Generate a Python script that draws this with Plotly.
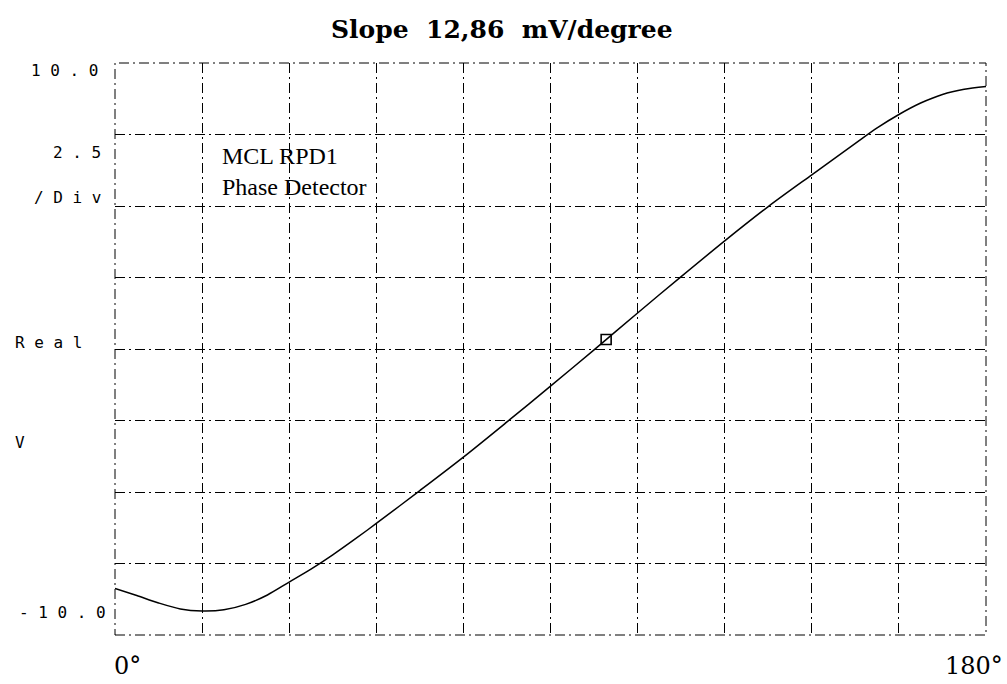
import plotly.graph_objects as go

# ---- data ----
phase_deg = [0, 4.5, 9, 13.5, 18, 22.5, 27, 31.5, 36, 40.5, 45, 49.5, 54, 63, 72, 81, 90, 99,
             108, 117, 126, 135, 144, 153, 157.5, 162, 166.5, 171, 175.5, 180]
real_v = [-8.37, -8.62, -8.88, -9.09, -9.16, -9.12, -8.93, -8.6, -8.15, -7.7, -7.2, -6.66,
          -6.1, -4.95, -3.78, -2.55, -1.3, -0.03, 1.26, 2.53, 3.78, 4.98, 6.09, 7.19, 7.73,
          8.2, 8.6, 8.9, 9.08, 9.18]
marker_deg = [101.5]
marker_v = [0.33]

title_text = "Slope  12,86  mV/degree"
note_lines = ["MCL RPD1", "Phase Detector"]
y_side_labels = ["1 0 . 0", "2 . 5", "/ D i v", "R e a l", "V", "- 1 0 . 0"]
x_end_labels = ["0°", "180°"]

# ---- layout geometry (pixels) ----
W, H = 1007, 684
L, R, T, B = 115, 986, 63, 635
pw, ph = R - L, B - T


def px(x):
    return (x - L) / pw


def py(y):
    return (B - y) / ph


fig = go.Figure()
fig.add_trace(go.Scatter(x=phase_deg, y=real_v, mode="lines",
                         line=dict(color="black", width=1.5, shape="spline", smoothing=0.8),
                         hoverinfo="skip", showlegend=False))
fig.add_trace(go.Scatter(x=marker_deg, y=marker_v, mode="markers",
                         marker=dict(symbol="square-open", size=10, color="black",
                                     line=dict(width=1.6, color="black")),
                         showlegend=False))

grid_dash = "10px,4px,2px,4px"
fig.update_xaxes(range=[0, 180], tick0=0, dtick=18, showgrid=True, gridcolor="black",
                 gridwidth=1, griddash=grid_dash, showticklabels=False, zeroline=False,
                 showline=False, ticks="")
fig.update_yaxes(range=[-10, 10], tick0=-10, dtick=2.5, showgrid=True, gridcolor="black",
                 gridwidth=1, griddash=grid_dash, showticklabels=False, zeroline=False,
                 showline=False, ticks="")

fig.add_shape(type="rect", xref="paper", yref="paper", x0=0, y0=0, x1=1, y1=1,
              line=dict(color="black", width=1, dash=grid_dash))

mono = dict(family="DejaVu Sans Mono", size=16, color="black")
side_pos = [(100, 71, "right"), (103, 153, "right"), (103, 197, "right"),
            (13, 342, "left"), (13, 442, "left"), (108, 612, "right")]
for txt, (x, y, xa) in zip(y_side_labels, side_pos):
    fig.add_annotation(text=txt, xref="paper", yref="paper", x=px(x), y=py(y),
                       xanchor=xa, yanchor="middle", showarrow=False, font=mono)

fig.add_annotation(text=title_text, xref="paper", yref="paper", x=px(502), y=py(30),
                   xanchor="center", yanchor="middle", showarrow=False,
                   font=dict(family="DejaVu Serif", size=25, color="black", weight="bold"))

fig.add_annotation(text="<br>".join(note_lines), xref="paper", yref="paper",
                   x=px(220), y=py(141), xanchor="left", yanchor="top", align="left",
                   showarrow=False,
                   font=dict(family="Liberation Serif", size=24, color="black"))

fig.add_annotation(text=x_end_labels[0], xref="paper", yref="paper", x=px(112), y=py(666),
                   xanchor="left", yanchor="middle", showarrow=False,
                   font=dict(family="DejaVu Serif", size=24, color="black"))
fig.add_annotation(text=x_end_labels[1], xref="paper", yref="paper", x=px(1005), y=py(666),
                   xanchor="right", yanchor="middle", showarrow=False,
                   font=dict(family="DejaVu Serif", size=24, color="black"))

fig.update_layout(width=W, height=H, margin=dict(l=L, r=W - R, t=T, b=H - B),
                  paper_bgcolor="white", plot_bgcolor="white", showlegend=False)

fig.write_html("out.html", config={"displayModeBar": False},
               post_script="document.body.style.margin='0';document.body.style.overflow='hidden';")
